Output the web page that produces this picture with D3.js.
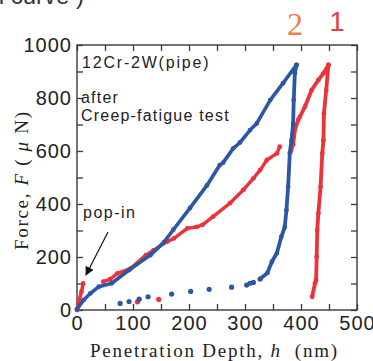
<!DOCTYPE html>
<html><head><meta charset="utf-8">
<script src="https://cdn.jsdelivr.net/npm/d3@7"></script>
<style>
html,body{margin:0;padding:0;background:#fff;}
svg{display:block;}
</style></head>
<body><svg id="c" width="373" height="361"></svg>
<script>
// ---- data (depth h in nm, force F in µN) ----
const xTicks = [0,50,100,150,200,250,300,350,400,450,500];
const xLabels = [0,100,200,300,400,500];
const yTicks = [0,100,200,300,400,500,600,700,800,900,1000];
const yLabels = [0,200,400,600,800,1000];

// curve 2 (blue)
const blueLoad = [[0,3],[12,38],[24,63],[39,88],[62,101],[93,151],[131,207],[155,255],[172,303],[202,385],[232,470],[255,547],[261,556],[279,610],[291,632],[309,679],[321,704],[345,792],[368,856],[392,925]];
const blueUnload = [[392,925],[389,893],[387,792],[386,704],[383,640],[380,592],[377,465],[374,377],[371,313],[365,277],[357,215],[348,182],[340,140],[327,117]];
const blueTail = [[327,117],[315,104],[309,101],[303,94],[276,86],[236,78],[203,70],[169,60],[127,50],[111,41],[93,32],[77,25]];

// curve 1 (red)
const redPopIn = [[0,0],[2,20],[4,38],[8,69],[11,100]];
const redLoad1 = [[47,107],[59,116],[72,138],[96,157],[123,207],[137,226],[161,258],[173,270],[197,308],[214,314],[224,321],[243,352],[273,403],[297,453],[315,497],[327,528],[339,566],[357,591],[362,616]];
const redLoad2 = [[382,600],[386,625],[389,679],[395,717],[398,729],[407,767],[419,830],[431,868],[440,893],[449,925]];
const redUnload = [[449,925],[445,830],[441,742],[440,641],[438,591],[435,465],[431,365],[429,302],[428,201],[427,113],[425,101],[420,50]];
const redTail = [[108,31],[146,40]];

const svg = d3.select("#c");
const x = d3.scaleLinear().domain([0,500]).range([77,357]);
const y = d3.scaleLinear().domain([0,1000]).range([310,45]);

const BLUE = "#2c56a6", RED = "#ec3339";
const axisCol = "#3a3a3a";

// frame
svg.append("rect").attr("x",x(0)).attr("y",y(1000)).attr("width",x(500)-x(0)).attr("height",y(0)-y(1000))
  .attr("fill","none").attr("stroke",axisCol).attr("stroke-width",1.4);

function styleAxis(g){
  g.select(".domain").remove();
  g.selectAll(".tick line").attr("stroke",axisCol).attr("stroke-width",1.3);
  g.selectAll(".tick text").attr("fill","#222").style("font-family","'Liberation Sans',Arial,sans-serif")
    .style("font-size","20px").style("letter-spacing","1px");
}
const xfmt = d => xLabels.includes(d) ? d : "";
const yfmt = d => yLabels.includes(d) ? d : "";

svg.append("g").attr("transform",`translate(0,${y(0)})`)
  .call(d3.axisBottom(x).tickValues(xTicks).tickSizeInner(-6).tickSizeOuter(0).tickPadding(6).tickFormat(xfmt))
  .call(styleAxis);
svg.append("g").attr("transform",`translate(0,${y(1000)})`)
  .call(d3.axisTop(x).tickValues(xTicks).tickSizeInner(-6).tickSizeOuter(0).tickFormat(""))
  .call(styleAxis);
svg.append("g").attr("transform",`translate(${x(0)},0)`)
  .call(d3.axisLeft(y).tickValues(yTicks).tickSizeInner(-6).tickSizeOuter(0).tickPadding(5).tickFormat(yfmt))
  .call(styleAxis);
svg.append("g").attr("transform",`translate(${x(500)},0)`)
  .call(d3.axisRight(y).tickValues(yTicks).tickSizeInner(-6).tickSizeOuter(0).tickFormat(""))
  .call(styleAxis);

// data
const line = d3.line().x(d=>x(d[0])).y(d=>y(d[1]));
function seg(data,col,w){
  svg.append("path").datum(data).attr("d",line).attr("fill","none").attr("stroke",col)
    .attr("stroke-width",w).attr("stroke-linecap","round").attr("stroke-linejoin","round");
  dots(data,col,2.4);
}
function dots(data,col,r){
  svg.append("g").selectAll("circle").data(data).join("circle")
    .attr("cx",d=>x(d[0])).attr("cy",d=>y(d[1])).attr("r",r).attr("fill",col);
}
seg(redPopIn,RED,3.6);
seg(redLoad1,RED,3.4);
seg(redLoad2,RED,3.8);
seg(redUnload,RED,3.8);
dots(redTail,RED,2.6);
seg(blueLoad,BLUE,3.6);
seg(blueUnload,BLUE,3.8);
dots(blueTail,BLUE,2.6);

// annotations
const sans = "'Liberation Sans',Arial,sans-serif";
const serif = "'Liberation Serif','Times New Roman',serif";
function txt(s,xx,yy,size,opts={}){
  const t = svg.append("text").attr("x",xx).attr("y",yy).text(s)
    .style("font-family",opts.font||sans).style("font-size",size+"px").attr("fill",opts.fill||"#222");
  if(opts.ls) t.style("letter-spacing",opts.ls+"px");
  if(opts.anchor) t.attr("text-anchor",opts.anchor);
  return t;
}
txt("(Indentation curve )",84,4,24,{anchor:"end",fill:"#333"});
txt("12Cr-2W(pipe)",82,68,16,{ls:1.8});
txt("after",81,103,16,{ls:1.2});
txt("Creep-fatigue test",81,121,16,{ls:1.2});
txt("pop-in",83,218,16,{ls:1.5});
txt("2",295,35,32,{font:serif,anchor:"middle",fill:"#ea8048"});
txt("1",337,31,27,{font:sans,anchor:"middle",fill:"#e8393f"});

// arrow
svg.append("defs").append("marker").attr("id","ah").attr("viewBox","0 0 10 10").attr("refX",9).attr("refY",5)
  .attr("markerWidth",9).attr("markerHeight",9).attr("markerUnits","userSpaceOnUse").attr("orient","auto")
  .append("path").attr("d","M0,0 L10,5 L0,10 z").attr("fill","#111");
svg.append("line").attr("x1",108).attr("y1",232).attr("x2",86).attr("y2",275)
  .attr("stroke","#111").attr("stroke-width",1.2).attr("marker-end","url(#ah)");

// axis titles
const xt = svg.append("text").attr("x",90).attr("y",357).style("font-family",serif).style("font-size","19px")
  .attr("fill","#222").attr("textLength",247).attr("lengthAdjust","spacing");
xt.append("tspan").text("Penetration Depth, ");
xt.append("tspan").style("font-style","italic").text("h");
xt.append("tspan").text("\u00a0 (nm)");

const yt = svg.append("text").attr("transform","translate(28,250) rotate(-90)")
  .style("font-family",serif).style("font-size","19px").attr("fill","#222")
  .attr("textLength",138).attr("lengthAdjust","spacing");
yt.append("tspan").text("Force, ");
yt.append("tspan").style("font-style","italic").text("F");
yt.append("tspan").text(" ( ");
yt.append("tspan").style("font-style","italic").text("\u03bc");
yt.append("tspan").text(" N)");
</script></body></html>
